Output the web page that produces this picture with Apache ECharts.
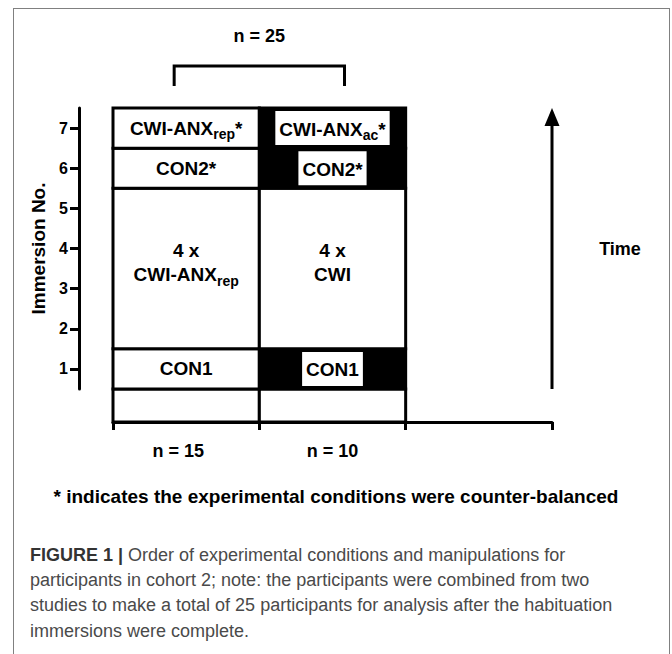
<!DOCTYPE html>
<html>
<head>
<meta charset="utf-8">
<script src="https://cdn.jsdelivr.net/npm/echarts@6/dist/echarts.min.js"></script>
<style>
  html, body { margin: 0; padding: 0; background: #fff; }
  #chart { position: absolute; left: 0; top: 0; width: 672px; height: 654px; }
  #frame { position: absolute; left: 13px; top: 8px; width: 655px; height: 700px; border: 1px solid #808080; border-bottom: none; }
</style>
</head>
<body>
<div id="frame"></div>
<div id="chart"></div>
<script>
const columns = ['n = 15', 'n = 10', '']
const immersionTicks = [1, 2, 3, 4, 5, 6, 7]
// [column, first immersion, last immersion, label]
const cohortRep = [
  [0, 1, 1, 'CON1'],
  [0, 2, 5, '4 x\nCWI-ANX_rep'],
  [0, 6, 6, 'CON2*'],
  [0, 7, 7, 'CWI-ANX_rep*']
]
const cohortAc = [
  [1, 1, 1, 'CON1'],
  [1, 2, 5, '4 x\nCWI'],
  [1, 6, 6, 'CON2*'],
  [1, 7, 7, 'CWI-ANX_ac*']
]
const totalN = 'n = 25'
const timeSpan = [0.5, 7.5]
const note = '* indicates the experimental conditions were counter-balanced'
const captionLines = [
  '{b|FIGURE 1 |} Order of experimental conditions and manipulations for',
  'participants in cohort 2; note: the participants were combined from two',
  'studies to make a total of 25 participants for analysis after the habituation',
  'immersions were complete.'
]

const font = '"Liberation Sans", Arial, sans-serif'
const axisDrop = 33 // x axis sits below the last immersion row
const cells = cohortRep.concat(cohortAc)

const richSub = {
  sub: { fontSize: 14, fontWeight: 'bold', fontFamily: font, lineHeight: 12, padding: [12, 0, 0, 0], verticalAlign: 'middle' }
}

function toRich(text) {
  return text.replace(/_([a-z]+)/g, '{sub|$1}')
}

function renderFloor(params, api) {
  const cs = params.coordSys
  const c = api.coord([api.value(0), 0.5])
  const bw = api.size([1, 0])[0]
  const bottom = cs.y + cs.height
  return {
    type: 'rect',
    shape: { x: c[0] - bw / 2, y: bottom, width: bw, height: axisDrop },
    style: { fill: '#fff', stroke: '#000', lineWidth: 3 }
  }
}

function renderCell(params, api) {
  const row = cells[params.dataIndex]
  const col = api.value(0)
  const lo = api.coord([col, api.value(1) - 0.5])
  const hi = api.coord([col, api.value(2) + 0.5])
  const bw = api.size([1, 0])[0]
  const shaded = col === 1 && api.value(1) === api.value(2)
  const multi = row[3].indexOf('\n') >= 0
  const label = {
    type: 'text',
    z2: 10,
    style: {
      text: toRich(row[3]),
      x: lo[0],
      y: (lo[1] + hi[1]) / 2 - (multi ? 6 : 0),
      align: 'center',
      verticalAlign: 'middle',
      fontSize: 19,
      fontWeight: 'bold',
      fontFamily: font,
      lineHeight: 24,
      fill: '#000',
      rich: richSub
    }
  }
  if (shaded) {
    label.style.backgroundColor = '#fff'
    label.style.padding = [6, 4, 4, 4]
  }
  return {
    type: 'group',
    children: [{
      type: 'rect',
      shape: { x: lo[0] - bw / 2, y: hi[1], width: bw, height: lo[1] - hi[1] },
      style: { fill: shaded ? '#000' : '#fff', stroke: '#000', lineWidth: 3 }
    }, label]
  }
}

function renderBracket(params, api) {
  const cs = params.coordSys
  const a = api.coord([api.value(0), 7.5])[0] - 12
  const b = api.coord([api.value(1), 7.5])[0] + 12
  const yBar = cs.y - 42
  const yLeg = cs.y - 22
  return {
    type: 'group',
    children: [{
      type: 'polyline',
      shape: { points: [[a, yLeg], [a, yBar], [b, yBar], [b, yLeg]] },
      style: { stroke: '#000', lineWidth: 3, fill: null }
    }, {
      type: 'text',
      style: {
        text: totalN, x: (a + b) / 2, y: cs.y - 72, align: 'center', verticalAlign: 'middle',
        fontSize: 18, fontWeight: 'bold', fontFamily: font, fill: '#000'
      }
    }]
  }
}

function renderArrow(params, api) {
  const bw = api.size([1, 0])[0]
  const low = api.coord([api.value(0), api.value(1)])
  const high = api.coord([api.value(0), api.value(2)])
  const x = low[0] + bw / 2
  return {
    type: 'group',
    children: [{
      type: 'line',
      shape: { x1: x, y1: low[1], x2: x, y2: high[1] + 14 },
      style: { stroke: '#000', lineWidth: 3 }
    }, {
      type: 'polygon',
      shape: { points: [[x - 7.5, high[1] + 18], [x + 7.5, high[1] + 18], [x, high[1]]] },
      style: { fill: '#000' }
    }, {
      type: 'text',
      style: {
        text: 'Time', x: x + 68, y: (low[1] + high[1]) / 2, align: 'center', verticalAlign: 'middle',
        fontSize: 18, fontWeight: 'bold', fontFamily: font, fill: '#000'
      }
    }]
  }
}

const chart = echarts.init(document.getElementById('chart'), null, { renderer: 'svg' })

chart.setOption({
  animation: false,
  title: [{
    text: note,
    left: 'center',
    top: 487,
    padding: 0,
    textStyle: { fontSize: 19, fontWeight: 'bold', fontFamily: font, color: '#000' }
  }, {
    text: captionLines.join('\n'),
    left: 30,
    top: 542,
    padding: 0,
    textStyle: {
      fontSize: 18, fontWeight: 'normal', fontFamily: font, color: '#4a4a4a', lineHeight: 25.3,
      rich: {
        b: { fontSize: 18, fontWeight: 'bold', fontFamily: font, color: '#333', lineHeight: 25.3 }
      }
    }
  }],
  grid: { left: 113, right: 120, top: 108, bottom: 265 },
  xAxis: {
    type: 'category',
    data: columns,
    boundaryGap: true,
    offset: axisDrop,
    axisLine: { show: true, onZero: false, lineStyle: { color: '#000', width: 3 } },
    axisTick: { show: true, length: 8, interval: 0, alignWithLabel: false, lineStyle: { color: '#000', width: 3 } },
    axisLabel: {
      interval: 0,
      margin: 20,
      color: '#000',
      fontSize: 18,
      fontWeight: 'bold',
      fontFamily: font,
      formatter: (v, i) => (i === 0 ? '{shift|' + v + '}' : v),
      rich: {
        shift: { fontSize: 18, fontWeight: 'bold', fontFamily: font, color: '#000', padding: [0, 16, 0, 0] }
      }
    },
    splitLine: { show: false }
  },
  yAxis: {
    type: 'value',
    min: 0.5,
    max: 7.5,
    offset: 34,
    name: 'Immersion No.',
    nameLocation: 'middle',
    nameGap: 20,
    nameTextStyle: { fontSize: 19, fontWeight: 'bold', fontFamily: font, color: '#000' },
    axisLine: { show: true, lineStyle: { color: '#000', width: 3 } },
    axisTick: { show: true, length: 9, customValues: immersionTicks, lineStyle: { color: '#000', width: 3 } },
    axisLabel: { customValues: immersionTicks, margin: 11, color: '#000', fontSize: 16, fontWeight: 'bold', fontFamily: font },
    splitLine: { show: false }
  },
  series: [{
    type: 'custom',
    name: 'floor',
    clip: false,
    renderItem: renderFloor,
    encode: { x: 0 },
    data: [cohortRep, cohortAc].map(c => [c[0][0]])
  }, {
    type: 'custom',
    name: 'immersions',
    clip: false,
    renderItem: renderCell,
    encode: { x: 0, y: [1, 2] },
    data: cells.map(r => [r[0], r[1], r[2]])
  }, {
    type: 'custom',
    name: 'cohort',
    clip: false,
    renderItem: renderBracket,
    data: [[cohortRep[0][0], cohortAc[0][0]]]
  }, {
    type: 'custom',
    name: 'time',
    clip: false,
    renderItem: renderArrow,
    data: [[columns.length - 1, timeSpan[0], timeSpan[1]]]
  }]
})
</script>
</body>
</html>
